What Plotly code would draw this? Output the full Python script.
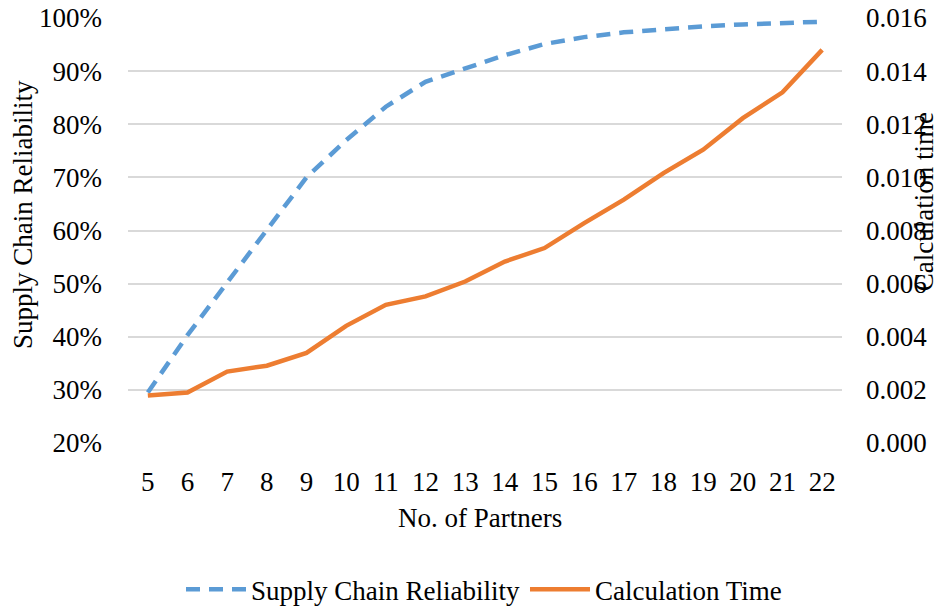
import plotly.graph_objects as go

partners = [str(v) for v in range(5, 23)]
reliability = [29.5, 40.3, 50.2, 60.0, 70.0, 77.0, 83.3, 88.0, 90.4, 93.0,
               95.1, 96.4, 97.3, 97.9, 98.4, 98.8, 99.0, 99.3]
calc_time = [0.00179, 0.00190, 0.00269, 0.00291, 0.00339, 0.00441, 0.00520,
             0.00552, 0.00608, 0.00683, 0.00734, 0.00828, 0.00916, 0.01016,
             0.01104, 0.01223, 0.01320, 0.01480]

left_ticks = [20, 30, 40, 50, 60, 70, 80, 90, 100]
left_labels = [f"{v}%" for v in left_ticks]
right_ticks = [0, 0.002, 0.004, 0.006, 0.008, 0.010, 0.012, 0.014, 0.016]
right_labels = [f"{v:.3f}" for v in right_ticks]

FONT = "Liberation Serif, Times New Roman, serif"
FS = 27
PW = 714.6
PH = 425.0
L = 127.7
T = 18.3

fig = go.Figure()
fig.add_trace(go.Scatter(
    x=partners, y=reliability, name="Supply Chain Reliability",
    mode="lines", line=dict(color="#5B9BD5", width=4.5, dash="14px,9px"),
    yaxis="y"))
fig.add_trace(go.Scatter(
    x=partners, y=calc_time, name="Calculation Time",
    mode="lines", line=dict(color="#ED7D31", width=4.5),
    yaxis="y2"))

fig.update_layout(
    width=939, height=606,
    margin=dict(l=128, r=97, t=18, b=163, autoexpand=False),
    paper_bgcolor="white", plot_bgcolor="white",
    font=dict(family=FONT, size=FS, color="black"),
    showlegend=True,
    legend=dict(orientation="h", x=(484 - L) / PW, xanchor="center",
                y=(T + PH - 590) / PH,
                yanchor="middle", font=dict(size=FS), itemwidth=60,
                traceorder="normal"),
    xaxis=dict(type="category", range=[-0.5, 17.5], showgrid=False,
               showline=False, zeroline=False, ticks="", automargin=False,
               ticklabelstandoff=20, tickfont=dict(size=FS)),
    yaxis=dict(range=[20, 100], tickvals=left_ticks, ticktext=left_labels,
               showgrid=True, gridcolor="#D9D9D9", gridwidth=1.5,
               zeroline=False, showline=False, ticks="", automargin=False,
               ticklabelstandoff=25, tickfont=dict(size=FS)),
    yaxis2=dict(range=[0, 0.016], tickvals=right_ticks, ticktext=right_labels,
                overlaying="y", side="right", showgrid=False, automargin=False,
                zeroline=False, showline=False, ticks="",
                ticklabelstandoff=23, tickfont=dict(size=FS)),
    annotations=[
        dict(text="Supply Chain Reliability", xref="paper", yref="paper",
             x=(22 - L) / PW, y=(T + PH - 215) / PH,
             xanchor="center", yanchor="middle", textangle=-90,
             showarrow=False, font=dict(size=FS)),
        dict(text="Calculation time", xref="paper", yref="paper",
             x=(924 - L) / PW, y=(T + PH - 202) / PH,
             xanchor="center", yanchor="middle", textangle=-90,
             showarrow=False, font=dict(size=FS)),
        dict(text="No. of Partners", xref="paper", yref="paper",
             x=(480 - L) / PW, y=(T + PH - 518) / PH,
             xanchor="center", yanchor="middle",
             showarrow=False, font=dict(size=FS)),
    ],
)

fig.write_html("out.html")
